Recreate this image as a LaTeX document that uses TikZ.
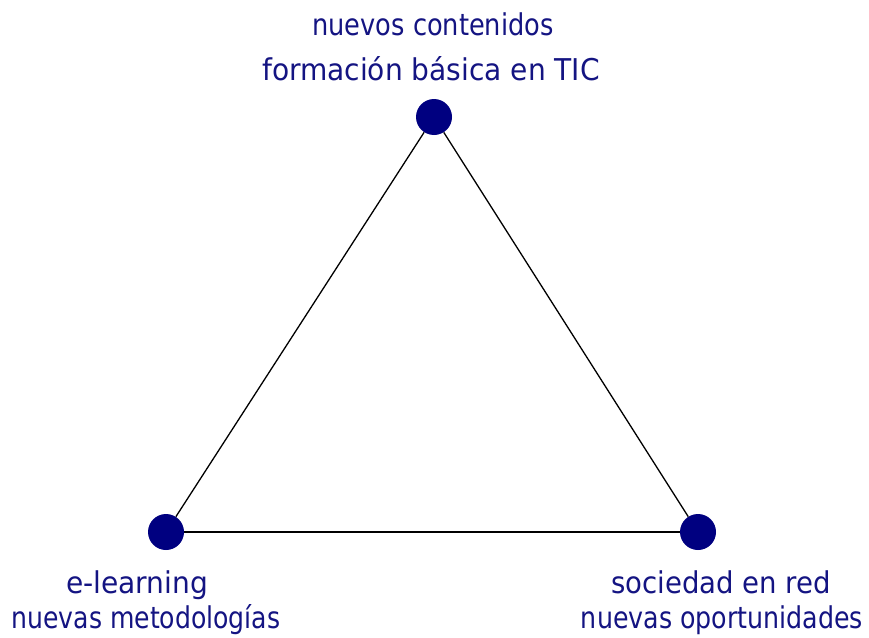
\documentclass[tikz,border=0pt]{standalone}
\usepackage{fontspec}
\setmainfont{DejaVu Sans Condensed}
\definecolor{navy}{RGB}{0,0,128}
\definecolor{txtnavy}{RGB}{20,20,130}
\newcommand{\sx}[2]{\scalebox{#1}[1]{#2}}
\begin{document}
\begin{tikzpicture}[x=1pt,y=-1pt,
  dot/.style={circle,fill=navy,draw=none,minimum size=36pt,inner sep=0pt},
  lbl/.style={anchor=base,text=txtnavy,inner sep=0pt,font=\fontsize{30}{36}\selectfont},
  edge/.style={draw=black,line width=1.3pt}]
\useasboundingbox (0,0) rectangle (869,637);
\node[dot] (top) at (434,117) {};
\node[dot] (left) at (166,532) {};
\node[dot] (right) at (698,532) {};
\draw[edge] (top) -- (left);
\draw[edge] (left) -- (right);
\draw[edge] (right) -- (top);
\node[lbl] (t1) at (433,35) {\sx{0.95}{nuevos contenidos}};
\node[lbl] (t2) at (431,80) {\sx{1.04}{formación básica en TIC}};
\node[lbl] (l1) at (137,593) {\sx{1.04}{e-learning}};
\node[lbl] (l2) at (146,628) {\sx{0.93}{nuevas metodologías}};
\node[lbl] (r1) at (721,593) {\sx{1.02}{sociedad en red}};
\node[lbl] (r2) at (722,628) {\sx{0.937}{nuevas oportunidades}};
\end{tikzpicture}
\end{document}
